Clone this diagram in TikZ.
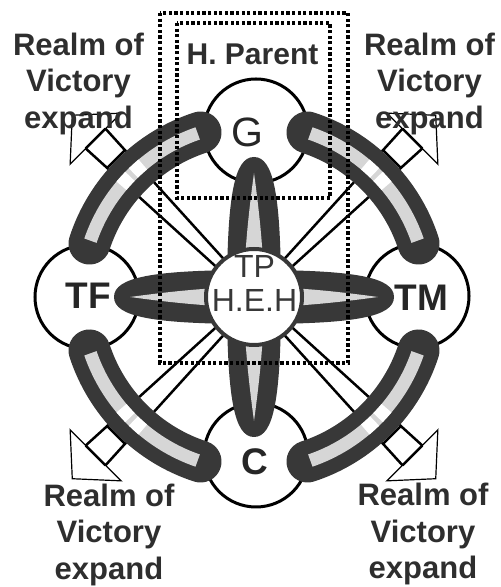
\documentclass[tikz,border=0pt]{standalone}
\usepackage{fontspec}
\setmainfont{Liberation Sans}
\usepackage{xcolor}
\usepackage{tikz}
\usetikzlibrary{positioning}

\definecolor{inkgray}{HTML}{2E2E2E}
\definecolor{bandgray}{HTML}{383838}
\definecolor{fillgray}{HTML}{D6D6D6}

\begin{document}
\begin{tikzpicture}[
      x=0.5pt, y=0.5pt,
      ring/.style={circle, draw=black, line width=1.5pt, fill=white,
                   minimum size=52pt, inner sep=0pt},
      hubring/.style={circle, draw=bandgray, line width=2pt, fill=white,
                      minimum size=48pt, inner sep=0pt},
      petal/.style={fill=bandgray},
      core/.style={fill=fillgray},
      band/.style={bandgray, line width=21pt, line cap=round},
      groove/.style={fillgray, line width=6.5pt},
      gap/.style={white, line width=6.5pt},
      rail/.style={line width=1.25pt},
      arrowhead/.style={draw, line width=0.6pt, fill=white},
      dots/.style={line width=2pt, dash pattern=on 1.6pt off 1.2pt},
      realm/.style={font=\fontsize{15.5}{18.25}\selectfont\bfseries,
                    text=inkgray, align=center, inner sep=0pt},
      tag/.style={font=\fontsize{18.5}{20}\selectfont\bfseries,
                  text=black!85, inner sep=0pt},
      every node/.style={inner sep=0pt}
    ]
    \useasboundingbox (0,0) rectangle (500,587);
    \coordinate (mid) at (254,290);

    % Rails, boxes and arrowheads on the diagonals
    \foreach \ang in {45,135,225,315}{
      \begin{scope}[shift={(mid)}, rotate=\ang]
        \draw[arrowhead] (224,-36) -- (257,0) -- (224,36) -- cycle;
        \draw[rail] (40,5) -- (224,14) (40,-5) -- (224,-14);
        \draw[rail] (195,-12.5) -- (195,12.5) (224,-14) -- (224,14);
      \end{scope}
    }

    % Outer circles
    \node[ring] (g)  at (256,456) {};
    \node[ring] (tf) at (87,290)  {};
    \node[ring] (tm) at (417,291) {};
    \node[ring] (c)  at (256,132) {};

    % Petals
    \foreach \ang in {0,90}{
      \begin{scope}[shift={(mid)}, rotate=\ang]
        \fill[petal] (140,0) .. controls (140,20) and (100,27) .. (0,27)
          .. controls (-100,27) and (-140,20) .. (-140,0)
          .. controls (-140,-20) and (-100,-27) .. (0,-27)
          .. controls (100,-27) and (140,-20) .. cycle;
        \fill[core] (124,0) .. controls (80,6) and (40,10) .. (0,10)
          .. controls (-40,10) and (-80,6) .. (-124,0)
          .. controls (-80,-6) and (-40,-10) .. (0,-10)
          .. controls (40,-10) and (80,-6) .. cycle;
      \end{scope}
    }

    % Curved bands between the circles
    \foreach \ang in {45,135,225,315}{
      \begin{scope}[shift={(mid)}, rotate=\ang]
        \draw[band] (-27:173) arc [start angle=-27, end angle=27, radius=173];
        \draw[groove] (-26:173) arc [start angle=-26, end angle=26, radius=173];
        \draw[gap] (-5:173) arc [start angle=-5, end angle=-0.8, radius=173];
        \draw[gap] (0.8:173) arc [start angle=0.8, end angle=5, radius=173];
      \end{scope}
    }

    % Hub
    \node[hubring] (hub) at (mid) {};
    \node[font=\fontsize{16}{17}\selectfont, text=black!78, align=center]
      (heh) at (254.5,304) {TP\\H.E.H};

    % Parent frames
    \draw[dots] (160,574) rectangle (348,224);
    \draw[dots] (177,564) rectangle (330,389);
    \node[font=\fontsize{15}{18}\selectfont\bfseries, text=inkgray, anchor=base]
      (parent) at (252.5,522) {H. Parent};

    % Circle labels
    \node[tag, font=\fontsize{20.5}{22}\selectfont] (gtag) at (247,455) {G};
    \node[tag] (tftag) at (88.5,291)  {TF};
    \node[tag] (tmtag) at (421.5,289.5) {TM};
    \node[tag] (ctag)  at (254.5,125.5) {C};

    % Realm labels
    \node[realm] (realmul) at (78.5,503.5) {Realm of\\Victory\\expand};
    \node[realm] (realmur) at (429.5,503.5) {Realm of\\Victory\\expand};
    \node[realm] (realmll) at (109,52.5) {Realm of\\Victory\\expand};
    \node[realm] (realmlr) at (423,53) {Realm of\\Victory\\expand};
  \end{tikzpicture}
\end{document}
